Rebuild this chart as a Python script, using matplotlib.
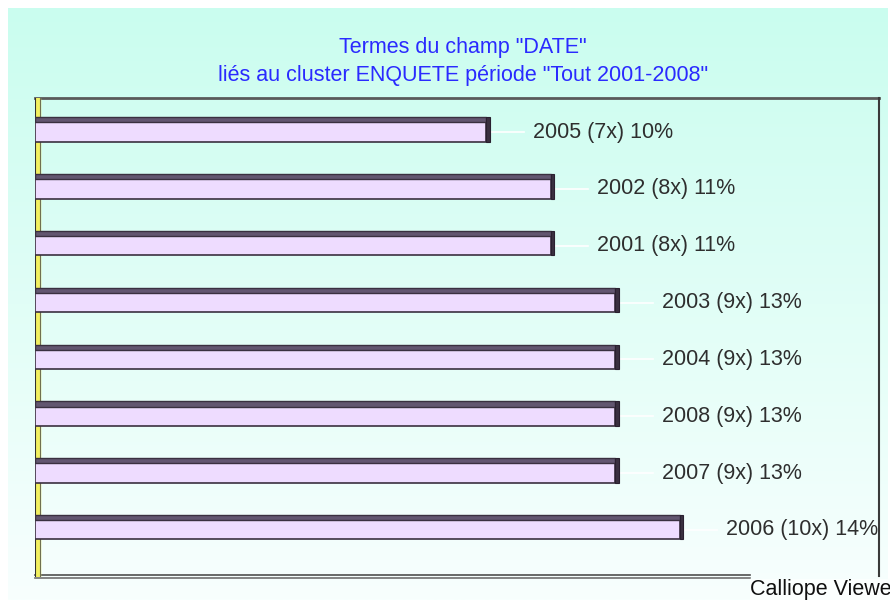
import numpy as np
import matplotlib.pyplot as plt
from matplotlib.colors import LinearSegmentedColormap

# chart values (top to bottom)
years = ['2005', '2002', '2001', '2003', '2004', '2008', '2007', '2006']
counts = [7, 8, 8, 9, 9, 9, 9, 10]
percents = [10, 11, 11, 13, 13, 13, 13, 14]
title_lines = ['Termes du champ "DATE"',
               'liés au cluster ENQUETE période "Tout 2001-2008"']

W, H = 890, 600
plt.rcParams['font.family'] = ['Liberation Sans', 'DejaVu Sans']
FS = 15.5

fig = plt.figure(figsize=(W / 100, H / 100), dpi=100)
fig.patch.set_facecolor('white')

# background panel with cyan -> white gradient, in pixel coords
bg = fig.add_axes([0, 0, 1, 1])
bg.set_xlim(0, W)
bg.set_ylim(H, 0)
bg.axis('off')
cmap = LinearSegmentedColormap.from_list('bg', ['#cafdef', '#f8fffe'])
grad = np.linspace(0, 1, 256).reshape(-1, 1)
bg.imshow(grad, cmap=cmap, aspect='auto', extent=(8, 888, H, 8), zorder=0)

# title
for i, line in enumerate(title_lines):
    bg.text(463, 47 + i * 28, line, color='#2a2aff', fontsize=FS,
            ha='center', va='center')

# frame of the plot box
bg.plot([35, 879], [98, 98], color='#5a5a5a', lw=2, zorder=2)
bg.plot([879, 879], [98, 576], color='#3a3a3a', lw=1.5, zorder=2)
bg.plot([35, 750], [575, 575], color='#505050', lw=1.2, zorder=2)
bg.plot([35, 750], [578, 578], color='#707070', lw=1.2, zorder=2)

# footer text
bg.add_patch(plt.Rectangle((750, 579), 140, 21, color='#fbfffe', zorder=3))
bg.text(750, 590, 'Calliope Viewe', fontsize=FS, color='#101010',
        ha='left', va='center', zorder=4)

# main axes
left, right, top, bottom = 35, 879, 98, 577
ax = fig.add_axes([left / W, 1 - bottom / H, (right - left) / W, (bottom - top) / H])
ax.patch.set_alpha(0)
ax.set_xlim(0, 13.09)
ax.set_ylim(7.83, -0.60)
ax.axis('off')

# yellow wall on the left
ax.axvspan(0, 0.075, color='#f2f060', zorder=1)
ax.axvline(0.0, color='#303030', lw=1.5, zorder=1)
ax.axvline(0.075, color='#707050', lw=0.8, zorder=1)

y = np.arange(len(years))
h_fill = 0.34
h_top = 0.09
ax.barh(y, counts, height=h_fill, color='#eedcff', edgecolor='#3a3040',
        lw=1.2, zorder=3)
ax.barh(y - h_fill / 2 - h_top / 2, counts, height=h_top, color='#625670',
        edgecolor='#3a3040', lw=1.0, zorder=3)
ax.barh(y - h_top / 2, 0.05, left=counts, height=h_fill + h_top,
        color='#3a3040', edgecolor='#2a2030', lw=0.8, zorder=3)

for yi, c, yr, p in zip(y, counts, years, percents):
    ax.plot([c + 0.06, c + 0.58], [yi, yi], color='white', lw=1.2, zorder=2)
    ax.text(c + 0.72, yi, f'{yr} ({c}x) {p}%', fontsize=FS, color='#2e2e2e',
            ha='left', va='center', zorder=4)

fig.savefig('out.png', dpi=100)
